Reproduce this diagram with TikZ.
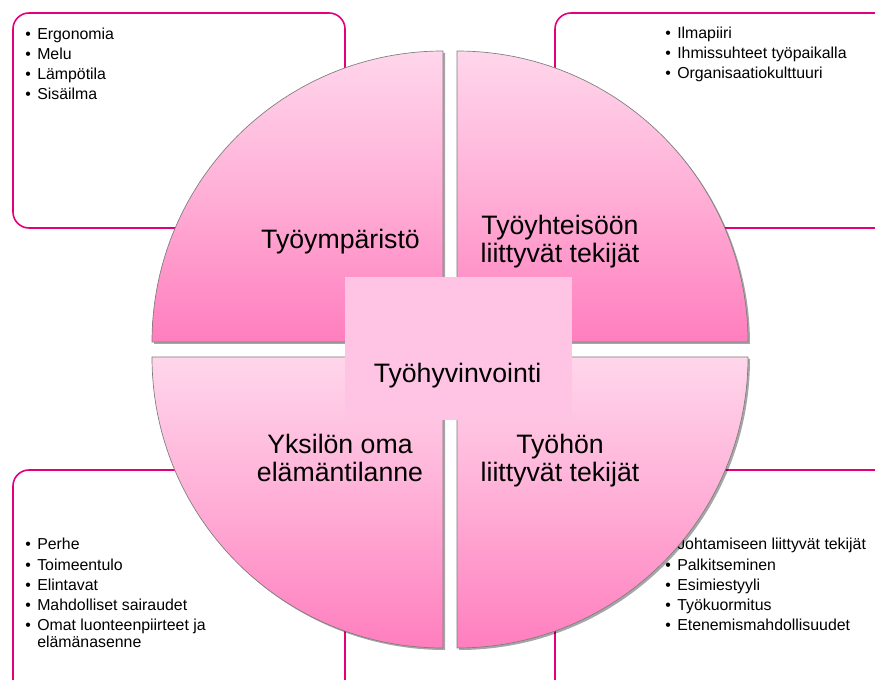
\documentclass[tikz,border=0pt]{standalone}
\usepackage{fontspec}
\setmainfont{Liberation Sans}
\usepackage{xcolor}
\usetikzlibrary{shadows}

\definecolor{boxline}{RGB}{228,0,124}
\definecolor{quadline}{RGB}{125,125,125}
\definecolor{quadtop}{RGB}{255,214,235}
\definecolor{quadmid}{RGB}{255,174,214}
\definecolor{quadbot}{RGB}{255,126,190}
\definecolor{hubfill}{RGB}{255,196,228}

\newcommand{\blt}{\makebox[9pt][l]{\textbullet}}

\begin{document}
\begin{tikzpicture}[%
  x=0.75pt, y=-0.75pt,
  box/.style={draw=boxline, line width=1.2pt, rounded corners=12pt},
  quad/.style={draw=quadline, line width=0.5pt, top color=quadtop, bottom color=quadbot, middle color=quadmid,
    drop shadow={shadow xshift=1.5pt, shadow yshift=-1.5pt, opacity=0.35, fill=black}},
  lbl/.style={font=\fontsize{20}{21.4}\selectfont, align=center, inner sep=0pt, anchor=base},
  lst/.style={font=\fontsize{11.9}{15.15}\selectfont, align=left, inner sep=0pt, anchor=base west}
]
\useasboundingbox (0,0) rectangle (875,680);
\clip (0,0) rectangle (875,680);

% Side boxes
\draw[box] (13,13) rectangle (345,228);
\draw[box] (555,13) rectangle (900,228);
\draw[box] (13,470) rectangle (345,700);
\draw[box] (555,470) rectangle (900,700);

% Lists (anchored at the last baseline)
\node[lst] (envlist) at (25,100) {\blt Ergonomia\\ \blt Melu\\ \blt Lämpötila\\ \blt Sisäilma};
\node[lst] (comlist) at (665,79) {\blt Ilmapiiri\\ \blt Ihmissuhteet työpaikalla\\ \blt Organisaatiokulttuuri};
\node[lst] (ownlist) at (25,647.3) {\blt Perhe\\ \blt Toimeentulo\\ \blt Elintavat\\ \blt Mahdolliset sairaudet\\
  \blt Omat luonteenpiirteet ja\\[-2.7pt] \hspace*{9pt}elämänasenne};
\node[lst] (worklist) at (665,630.7) {\blt Johtamiseen liittyvät tekijät\\ \blt Palkitseminen\\ \blt Esimiestyyli\\
  \blt Työkuormitus\\ \blt Etenemismahdollisuudet};

% Quarter circles
\draw[quad] (443,342) -- (152,342) arc[start angle=180, end angle=90, radius=218.25pt] -- cycle;
\draw[quad] (457,342) -- (457,51) arc[start angle=90, end angle=0, radius=218.25pt] -- cycle;
\draw[quad] (443,357) -- (152,357) arc[start angle=180, end angle=270, radius=218.25pt] -- cycle;
\draw[quad] (457,357) -- (748,357) arc[start angle=0, end angle=-90, radius=218.25pt] -- cycle;

% Centre
\fill[hubfill] (345,277) rectangle (572,420);
\node[lbl] (hub) at (457.5,383) {Työhyvinvointi};

% Quarter labels
\node[lbl] (env) at (340.5,249) {Työympäristö};
\node[lbl] (com) at (560,263) {Työyhteisöön\\liittyvät tekijät};
\node[lbl] (own) at (340,482) {Yksilön oma\\elämäntilanne};
\node[lbl] (work) at (560,482) {Työhön\\liittyvät tekijät};
\end{tikzpicture}
\end{document}
